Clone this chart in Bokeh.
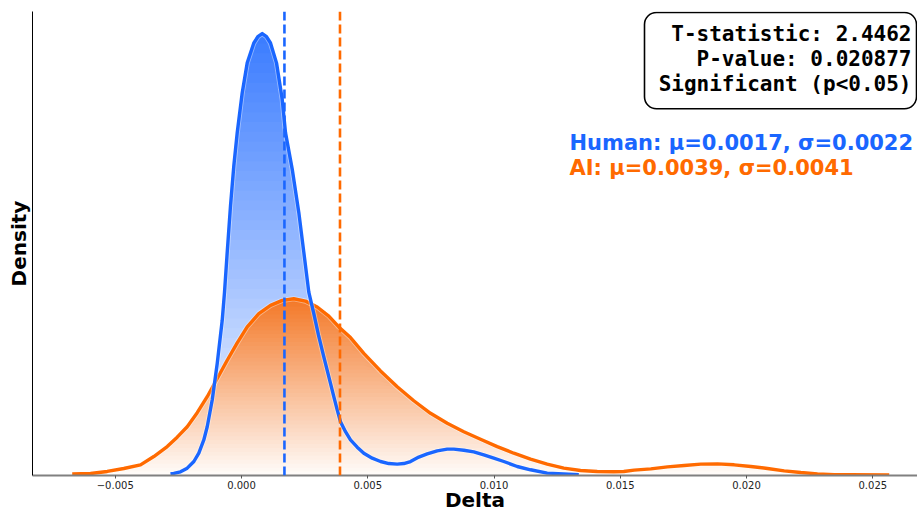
import numpy as np
from bokeh.plotting import figure
from bokeh.models import Range1d, FixedTicker, Span, Label, BoxAnnotation
from bokeh.embed import file_html
from bokeh.resources import INLINE

# ---------------- data ----------------
blue_x = [-0.002812, -0.002681, -0.002416, -0.002150, -0.001886, -0.001691, -0.001493,
          -0.001358, -0.001160, -0.000962, -0.000764, -0.000673, -0.000566, -0.000436,
          -0.000305, -0.000170, 0.000028, 0.000226, 0.000487, 0.000646, 0.000820,
          0.000990, 0.001148, 0.001386, 0.001612, 0.001742, 0.002008, 0.002269,
          0.002467, 0.002665, 0.002863, 0.003049, 0.003259, 0.003524, 0.003655,
          0.003790, 0.003920, 0.004118, 0.004316, 0.004582, 0.004843, 0.005176,
          0.005505, 0.005833, 0.006166, 0.006427, 0.006693, 0.007021, 0.007354,
          0.007750, 0.008146, 0.008407, 0.008803, 0.009199, 0.009595, 0.009991,
          0.010387, 0.010918, 0.011445, 0.012106, 0.012763, 0.013357]
blue_y = [0.8, 1.1, 2.0, 4.0, 7.6, 12.1, 19.3, 26.5, 41.0, 60.8, 84.3, 99.6, 121.3,
          146.5, 168.2, 186.2, 207.9, 224.1, 234.9, 238.3, 240.0, 238.3, 234.9, 224.1,
          204.3, 186.2, 166.4, 142.9, 121.3, 99.6, 87.9, 76.2, 64.4, 50.0, 42.8, 35.6,
          29.2, 23.8, 19.3, 15.4, 12.1, 9.4, 7.6, 6.5, 6.2, 6.5, 7.6, 10.0, 11.7, 13.4,
          14.3, 14.3, 13.7, 12.8, 11.2, 9.4, 7.6, 4.9, 3.1, 1.3, 0.9, 0.5]

orange_x = [-0.006704, -0.005980, -0.005318, -0.004661, -0.004000, -0.003473, -0.002942,
            -0.002546, -0.002150, -0.001754, -0.001358, -0.000962, -0.000566, -0.000170,
            0.000226, 0.000685, 0.001148, 0.001612, 0.002071, 0.002534, 0.002998,
            0.003457, 0.003853, 0.004316, 0.004843, 0.005505, 0.006166, 0.006823,
            0.007485, 0.008146, 0.008803, 0.009465, 0.010126, 0.010783, 0.011445,
            0.012106, 0.012763, 0.013425, 0.014086, 0.014743, 0.015139, 0.015551,
            0.016208, 0.016870, 0.017531, 0.018189, 0.018850, 0.019511, 0.020169,
            0.020830, 0.021491, 0.022149, 0.022810, 0.023472, 0.024129, 0.025650]
orange_y = [0.8, 1.1, 2.2, 3.8, 5.8, 10.3, 15.7, 20.8, 26.5, 34.1, 42.8, 52.7, 62.6,
            72.0, 80.7, 87.9, 92.4, 95.1, 96.0, 94.7, 91.5, 86.6, 80.7, 74.9, 66.3, 56.8,
            48.2, 40.6, 33.8, 28.4, 23.8, 19.7, 15.7, 12.1, 8.9, 6.2, 4.0, 2.7, 2.2, 2.0,
            2.2, 2.9, 3.6, 4.7, 5.4, 6.2, 6.3, 5.8, 4.9, 3.8, 2.5, 1.6, 0.9, 0.5, 0.4, 0.3]

group_names = ["Human", "AI"]
group_means = [0.0017, 0.0039]
group_stds = [0.0022, 0.0041]
t_stat = 2.4462
p_val = 0.020877

x_ticks = [-0.005, 0.000, 0.005, 0.010, 0.015, 0.020, 0.025]
x_tick_labels = ["\u22120.005", "0.000", "0.005", "0.010", "0.015", "0.020", "0.025"]

# ---------------- styling / layout ----------------
BLUE_LINE = "#1a66ff"
ORANGE_LINE = "#ff6a00"
BLUE_FILL = (26, 102, 255)
ORANGE_FILL = (242, 108, 20)

XMIN, XMAX = -0.008277, 0.02677
YMAX = 252.0
FL, FR, FT, FB = 32.0, 917.0, 11.0, 474.0   # expected frame edges in the picture
TEXT_DY = 8.0                                # baseline correction for labels


def sx(px):
    return XMIN + (px - FL) / (FR - FL) * (XMAX - XMIN)


def sy(py):
    return (FB - py) / (FB - FT) * YMAX


p = figure(width=917, height=514, output_backend="svg", toolbar_location=None,
           x_range=Range1d(XMIN, XMAX), y_range=Range1d(0, YMAX),
           min_border_left=32, min_border_right=0, min_border_top=11, min_border_bottom=0)
p.outline_line_color = None
p.grid.grid_line_color = None
p.background_fill_color = "white"
p.border_fill_color = "white"


def grad_color(base, a):
    r, g, b = base
    return "#%02x%02x%02x" % (round(255 * (1 - a) + r * a),
                              round(255 * (1 - a) + g * a),
                              round(255 * (1 - a) + b * a))


def gradient_fill(xs, ys, base, a_top, a_bot, n=45):
    xs = np.asarray(xs)
    ys = np.asarray(ys)
    peak = ys.max()
    for k in range(n, 0, -1):
        level = peak * k / n
        frac = (k - 0.5) / n
        a = a_bot + (a_top - a_bot) * frac
        top = np.minimum(ys, level)
        p.varea(x=xs, y1=np.zeros_like(ys), y2=top, fill_color=grad_color(base, a),
                fill_alpha=1.0)


gradient_fill(blue_x, blue_y, BLUE_FILL, 0.86, 0.02)
gradient_fill(orange_x, orange_y, ORANGE_FILL, 0.92, 0.02)

# lines with a soft halo
p.line(orange_x, orange_y, line_color="white", line_width=5.2, line_alpha=0.4)
p.line(orange_x, orange_y, line_color=ORANGE_LINE, line_width=3.4, line_join="round")
p.line(blue_x, blue_y, line_color="white", line_width=5.2, line_alpha=0.4)
p.line(blue_x, blue_y, line_color=BLUE_LINE, line_width=3.4, line_join="round")

# mean lines
for m, c in zip(group_means, [BLUE_LINE, ORANGE_LINE]):
    p.add_layout(Span(location=m, dimension="height", line_color=c, line_width=2.6,
                      line_dash="9 4"))

# axes
p.xaxis.ticker = FixedTicker(ticks=x_ticks)
p.xaxis.major_label_overrides = {t: l for t, l in zip(x_ticks, x_tick_labels)}
p.xaxis.major_label_text_font = "DejaVu Sans"
p.xaxis.major_label_text_font_size = "10px"
p.xaxis.major_label_text_color = "#222222"
p.xaxis.major_label_standoff = 2
p.xaxis.major_tick_out = 3
p.xaxis.major_tick_in = 0
p.xaxis.major_tick_line_color = "#555555"
p.xaxis.minor_tick_line_color = None
p.xaxis.axis_line_color = "#808080"
p.xaxis.axis_line_width = 2
p.xaxis.axis_label = "Delta"
p.xaxis.axis_label_text_font = "DejaVu Sans"
p.xaxis.axis_label_text_font_style = "bold"
p.xaxis.axis_label_text_font_size = "20px"
p.xaxis.axis_label_text_color = "black"
p.xaxis.axis_label_standoff = -4

p.yaxis.ticker = FixedTicker(ticks=[])
p.yaxis.major_tick_out = 0
p.yaxis.major_tick_in = 0
p.yaxis.minor_tick_line_color = None
p.yaxis.major_label_standoff = 0
p.yaxis.axis_line_color = "black"
p.yaxis.axis_line_width = 1
p.yaxis.axis_label = "Density"
p.yaxis.axis_label_text_font = "DejaVu Sans"
p.yaxis.axis_label_text_font_style = "bold"
p.yaxis.axis_label_text_font_size = "20px"
p.yaxis.axis_label_text_color = "black"
p.yaxis.axis_label_standoff = 2

# statistics box
p.add_layout(BoxAnnotation(left=sx(644), right=sx(916), top=sy(12), bottom=sy(108),
                           fill_color="white", fill_alpha=1.0, line_color="black",
                           line_alpha=1.0, line_width=1.6, border_radius=12))
box_lines = ["T-statistic: %.4f" % t_stat, "P-value: %.6f" % p_val,
             "Significant (p<0.05)" if p_val < 0.05 else "Not significant"]
for i, t in enumerate(box_lines):
    p.add_layout(Label(x=sx(911), y=sy(41.7 + 24.7 * i - TEXT_DY), text=t,
                       text_align="right", text_baseline="alphabetic",
                       text_font="DejaVu Sans Mono", text_font_style="bold",
                       text_font_size="21px", text_color="black"))

for i, (n, m, s, c) in enumerate(zip(group_names, group_means, group_stds,
                                     [BLUE_LINE, ORANGE_LINE])):
    p.add_layout(Label(x=sx(569), y=sy(150 + 25 * i - TEXT_DY),
                       text="%s: \u03bc=%.4f, \u03c3=%.4f" % (n, m, s),
                       text_align="left", text_baseline="alphabetic",
                       text_font="DejaVu Sans", text_font_style="bold",
                       text_font_size="21px", text_color=c))

open("out.html", "w").write(file_html(p, INLINE))
